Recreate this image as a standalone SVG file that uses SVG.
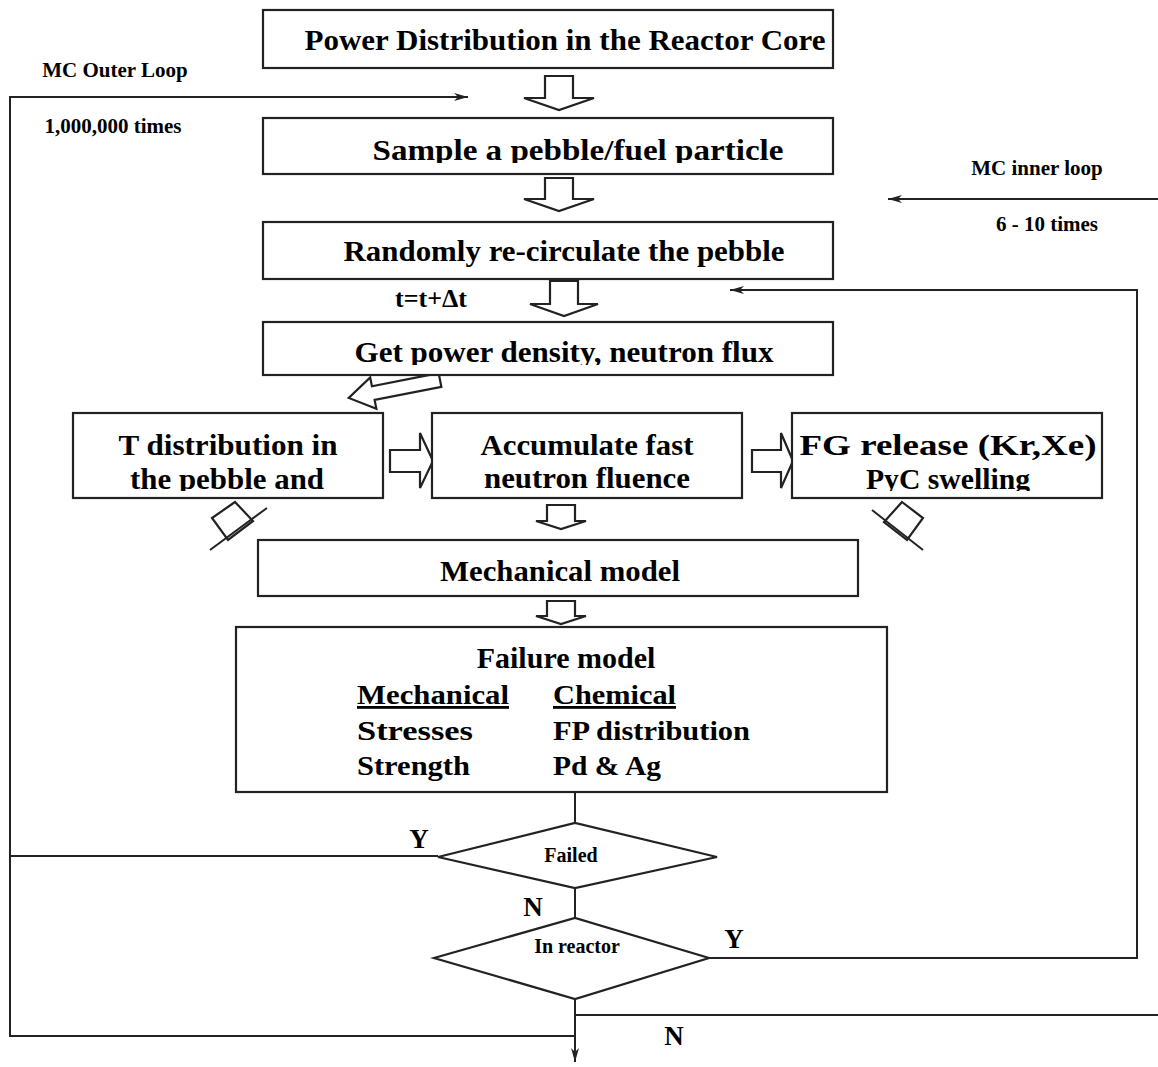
<svg xmlns="http://www.w3.org/2000/svg" width="1158" height="1067" viewBox="0 0 1158 1067">
<style>
.box{fill:#fff;stroke:#222;stroke-width:2.2}
.harrow{fill:#fff;stroke:#222;stroke-width:2.2;stroke-linejoin:miter}
.t{font-family:"Liberation Serif","Times New Roman",serif;font-weight:bold;fill:#000}
.big{font-size:30px;text-anchor:middle}
.mid{font-size:28px}
.sm{font-size:21px;text-anchor:middle}
.yn{font-size:27px;text-anchor:middle}
.line{fill:none;stroke:#222;stroke-width:2}
</style>
<defs>
<marker id="ah" viewBox="0 0 14 8" refX="14" refY="4" markerWidth="14" markerHeight="8" markerUnits="userSpaceOnUse" orient="auto">
<path d="M0,0 L14,4 L0,8 L4,4 Z" fill="#222"/>
</marker>
<clipPath id="c2"><rect x="263" y="118" width="570" height="45"/></clipPath>
<clipPath id="c4"><rect x="263" y="322" width="570" height="43"/></clipPath>
<clipPath id="c5"><rect x="73" y="413" width="310" height="78"/></clipPath>
<clipPath id="c7"><rect x="792" y="413" width="310" height="78"/></clipPath>
</defs>
<rect width="1158" height="1067" fill="#fff"/>

<g id="connectors">
<polyline class="line" points="575,1036 10,1036 10,97 468,97" marker-end="url(#ah)"/>
<line class="line" x1="1158" y1="199" x2="888" y2="199" marker-end="url(#ah)"/>
<polyline class="line" points="709,958 1137,958 1137,290 730,290" marker-end="url(#ah)"/>
<line class="line" x1="575" y1="792" x2="575" y2="823"/>
<line class="line" x1="438" y1="856" x2="10" y2="856"/>
<line class="line" x1="575" y1="888" x2="575" y2="918"/>
<line class="line" x1="575" y1="999" x2="575" y2="1062" marker-end="url(#ah)"/>
<line class="line" x1="575" y1="1015" x2="1158" y2="1015"/>
<polygon class="harrow" points="545,76 573,76 573,98 594,98 559,110 524,98 545,98"/>
<polygon class="harrow" points="545,178 573,178 573,199 594,199 559,211 524,199 545,199"/>
<polygon class="harrow" points="550,281 578,281 578,304 598,304 564,316 530,304 550,304"/>
<polygon class="harrow" transform="translate(440,380) rotate(168.9)" points="0,-7 68,-7 68,-16 93,0 68,16 68,7 0,7"/>
<polygon class="harrow" points="390,450 420,450 420,433 433,461 420,488 420,472 390,472"/>
<polygon class="harrow" points="752,450 781,450 781,433 793,461 781,488 781,472 752,472"/>
<polygon class="harrow" points="547,505 575,505 575,521 586,521 561,529 536,521 547,521"/>
<polygon class="harrow" points="547,601 575,601 575,616 586,616 561,624 536,616 547,616"/>
<polygon class="harrow" points="235,502 253,521 228,540 212,518"/>
<polyline class="line" stroke-width="2.5" points="267,508 210,550"/>
<polygon class="harrow" points="902,502 923,518 907,540 884,522"/>
<polyline class="line" stroke-width="2.5" points="872,510 923,550"/>
</g>

<g id="label-outer">
<text class="t sm" x="115" y="77">MC Outer Loop</text>
<text class="t sm" x="113" y="133">1,000,000 times</text>
</g>
<g id="label-inner">
<text class="t sm" x="1037" y="175">MC inner loop</text>
<text class="t sm" x="1047" y="231">6 - 10 times</text>
</g>

<g id="n1">
<rect class="box" x="263" y="10" width="570" height="58"/>
<text class="t big" x="565" y="50" textLength="521" lengthAdjust="spacingAndGlyphs">Power Distribution in the Reactor Core</text>
</g>
<g id="n2">
<rect class="box" x="263" y="118" width="570" height="56"/>
<text class="t big" x="578" y="160" textLength="411" lengthAdjust="spacingAndGlyphs" clip-path="url(#c2)">Sample a pebble/fuel particle</text>
</g>
<g id="n3">
<rect class="box" x="263" y="222" width="570" height="57"/>
<text class="t big" x="564" y="261" textLength="441" lengthAdjust="spacingAndGlyphs">Randomly re-circulate the pebble</text>
</g>
<g id="label-dt">
<text class="t" style="font-size:26px" x="395" y="307">t=t+Δt</text>
</g>
<g id="n4">
<rect class="box" x="263" y="322" width="570" height="53"/>
<text class="t big" x="564" y="362" textLength="419" lengthAdjust="spacingAndGlyphs" clip-path="url(#c4)">Get power density, neutron flux</text>
</g>
<g id="n5">
<rect class="box" x="73" y="413" width="310" height="85"/>
<g clip-path="url(#c5)">
<text class="t big" x="228" y="455" textLength="219" lengthAdjust="spacingAndGlyphs">T distribution in</text>
<text class="t big" x="227" y="489" textLength="194" lengthAdjust="spacingAndGlyphs">the pebble and</text>
</g>
</g>
<g id="n6">
<rect class="box" x="432" y="413" width="310" height="85"/>
<text class="t big" x="587" y="455" textLength="213" lengthAdjust="spacingAndGlyphs">Accumulate fast</text>
<text class="t big" x="587" y="488" textLength="206" lengthAdjust="spacingAndGlyphs">neutron fluence</text>
</g>
<g id="n7">
<rect class="box" x="792" y="413" width="310" height="85"/>
<g clip-path="url(#c7)">
<text class="t big" x="948" y="455" textLength="297" lengthAdjust="spacingAndGlyphs">FG release (Kr,Xe)</text>
<text class="t big" x="948" y="489" textLength="164" lengthAdjust="spacingAndGlyphs">PyC swelling</text>
</g>
</g>
<g id="n8">
<rect class="box" x="258" y="540" width="600" height="56"/>
<text class="t big" x="560" y="581" textLength="240" lengthAdjust="spacingAndGlyphs">Mechanical model</text>
</g>
<g id="n9">
<rect class="box" x="236" y="627" width="651" height="165"/>
<text class="t big" x="566" y="668">Failure model</text>
<text class="t mid" x="357" y="704" textLength="152" lengthAdjust="spacingAndGlyphs" text-decoration="underline">Mechanical</text>
<text class="t mid" x="553" y="704" textLength="123" lengthAdjust="spacingAndGlyphs" text-decoration="underline">Chemical</text>
<text class="t mid" x="357" y="740" textLength="116" lengthAdjust="spacingAndGlyphs">Stresses</text>
<text class="t mid" x="553" y="740" textLength="197" lengthAdjust="spacingAndGlyphs">FP distribution</text>
<text class="t mid" x="357" y="775" textLength="113" lengthAdjust="spacingAndGlyphs">Strength</text>
<text class="t mid" x="553" y="775" textLength="108" lengthAdjust="spacingAndGlyphs">Pd &amp; Ag</text>
</g>
<g id="d1">
<polygon class="box" points="438,857 575,823 717,857 575,888"/>
<text class="t" style="font-size:20px" x="571" y="862" text-anchor="middle">Failed</text>
</g>
<g id="d2">
<polygon class="box" points="434,958 575,918 709,958 575,999"/>
<text class="t" style="font-size:20px" x="577" y="953" text-anchor="middle">In reactor</text>
</g>
<g id="yn-labels">
<text class="t yn" x="419" y="848">Y</text>
<text class="t yn" x="533" y="916">N</text>
<text class="t yn" x="734" y="948">Y</text>
<text class="t yn" x="674" y="1045">N</text>
</g>
</svg>
